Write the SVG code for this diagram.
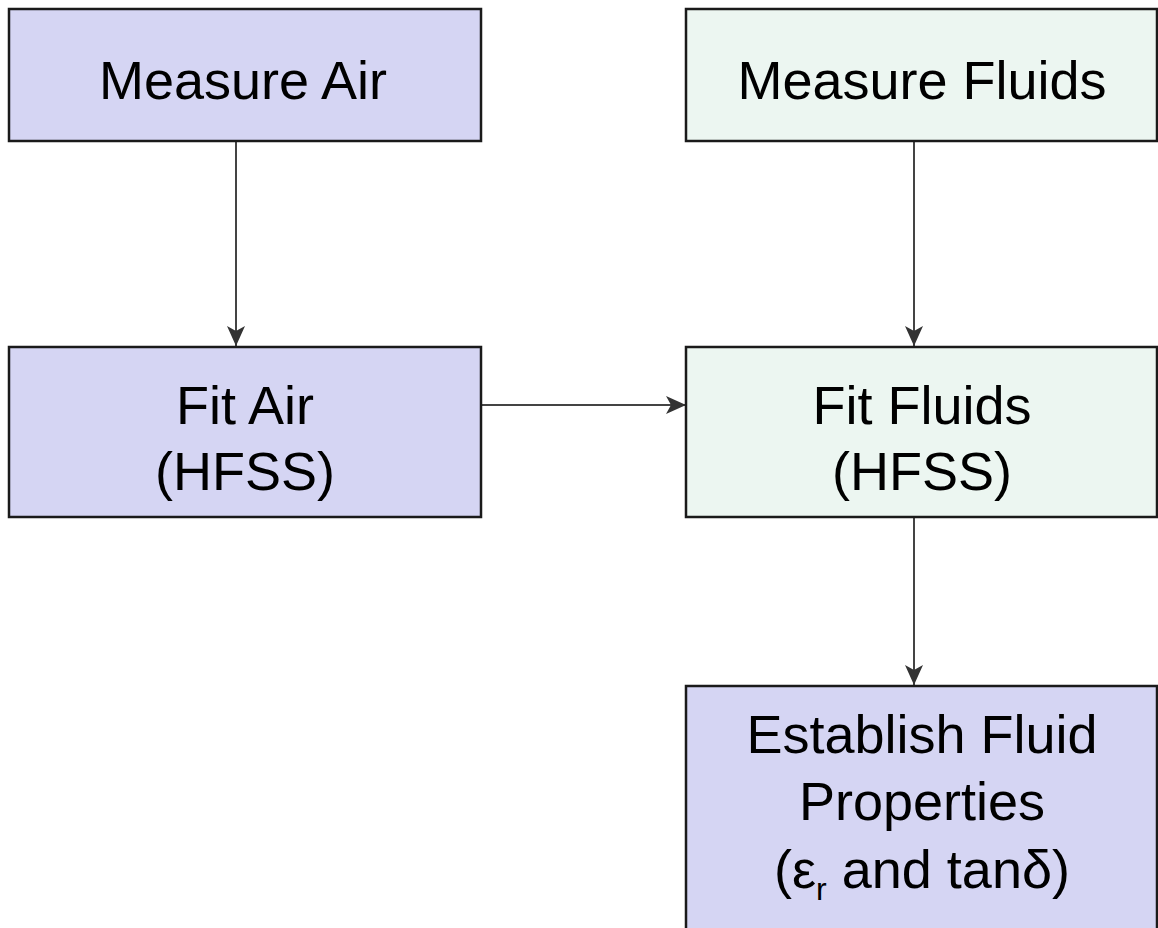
<svg xmlns="http://www.w3.org/2000/svg" width="1158" height="928" viewBox="0 0 1158 928">
<style>
.box{stroke:#1a1a1a;stroke-width:2.5}
.air{fill:#d5d5f3}
.fl{fill:#ecf6f1}
.t{font-family:"Liberation Sans",Arial,sans-serif;font-size:54px;fill:#000;text-anchor:middle}
.c{stroke:#444;stroke-width:2;fill:none}
</style>
<defs>
<marker id="ah" markerWidth="20" markerHeight="20" refX="20" refY="10" orient="auto" markerUnits="userSpaceOnUse" viewBox="0 0 20 20">
<path d="M0,1 L20,10 L0,19 L5,10 Z" fill="#333"/>
</marker>
</defs>
<rect width="1158" height="928" fill="#fff"/>
<g id="connectors">
<line class="c" x1="236" y1="141" x2="236" y2="346" marker-end="url(#ah)"/>
<line class="c" x1="914" y1="141" x2="914" y2="346" marker-end="url(#ah)"/>
<line class="c" x1="481" y1="405" x2="686" y2="405" marker-end="url(#ah)"/>
<line class="c" x1="914" y1="517" x2="914" y2="685" marker-end="url(#ah)"/>
</g>
<g id="measure-air">
<rect class="box air" x="9" y="9" width="472" height="132"/>
<text class="t" x="243" y="99">Measure Air</text>
</g>
<g id="measure-fluids">
<rect class="box fl" x="686" y="9" width="471" height="132"/>
<text class="t" x="922" y="99">Measure Fluids</text>
</g>
<g id="fit-air">
<rect class="box air" x="9" y="347" width="472" height="170"/>
<text class="t" x="245" y="424">Fit Air</text>
<text class="t" x="245" y="490">(HFSS)</text>
</g>
<g id="fit-fluids">
<rect class="box fl" x="686" y="347" width="471" height="170"/>
<text class="t" x="922" y="424">Fit Fluids</text>
<text class="t" x="922" y="490">(HFSS)</text>
</g>
<g id="establish">
<rect class="box air" x="686" y="686" width="471" height="260"/>
<text class="t" x="922" y="753">Establish Fluid</text>
<text class="t" x="922" y="820">Properties</text>
<text class="t" x="922" y="888">(ε<tspan font-size="32" dy="12">r</tspan><tspan dy="-12"> and tanδ)</tspan></text>
</g>
</svg>
